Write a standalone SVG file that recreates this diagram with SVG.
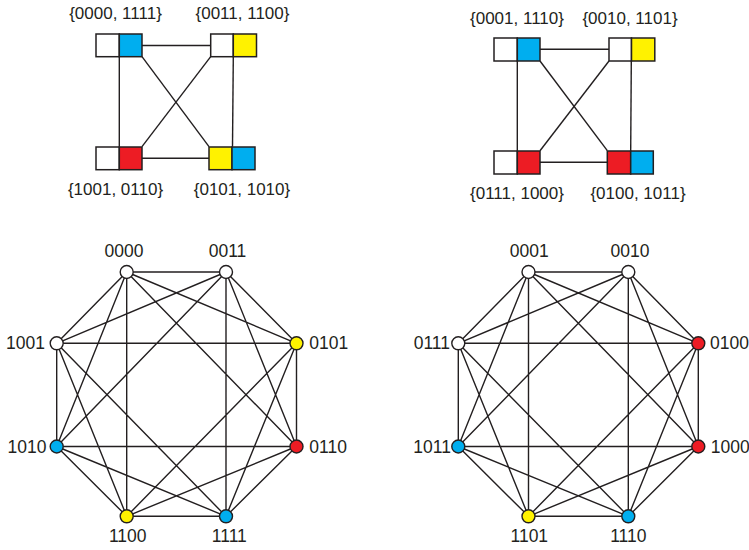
<svg xmlns="http://www.w3.org/2000/svg" width="749" height="550" viewBox="0 0 749 550">
<style>
  .e { stroke: #231f20; stroke-width: 1.4; fill: none; }
  .sq { stroke: #231f20; stroke-width: 1.5; }
  .n { stroke: #231f20; stroke-width: 1.4; }
  .w { fill: #ffffff; }
  .b { fill: #00aeef; }
  .y { fill: #fff200; }
  .r { fill: #ed1c24; }
  text { font-family: "Liberation Sans", Arial, sans-serif; fill: #231f20; }
  .lt { font-size: 17px; text-anchor: middle; }
  .lo { font-size: 17.5px; }
  .m { text-anchor: middle; }
  .s { text-anchor: start; }
  .en { text-anchor: end; }
</style>
<rect width="749" height="550" fill="#ffffff"/>

<!-- connectors -->
<g id="connectors">
  <!-- top-left quotient graph -->
  <line class="e" x1="142" y1="45.5" x2="210.7" y2="45.5"/>
  <line class="e" x1="119.3" y1="56.7" x2="119.3" y2="146.7"/>
  <line class="e" x1="233.3" y1="56.7" x2="232.5" y2="146.7"/>
  <line class="e" x1="142" y1="158.3" x2="209" y2="158.3"/>
  <line class="e" x1="142" y1="56.7" x2="209" y2="146.7"/>
  <line class="e" x1="210.7" y1="56.7" x2="142" y2="146.7"/>
  <!-- top-right quotient graph -->
  <line class="e" x1="540" y1="49.3" x2="609" y2="49.3"/>
  <line class="e" x1="517.3" y1="61" x2="517.3" y2="150.7"/>
  <line class="e" x1="631.3" y1="61" x2="630.7" y2="150.7"/>
  <line class="e" x1="540" y1="162.3" x2="607.3" y2="162.3"/>
  <line class="e" x1="540" y1="61" x2="607.3" y2="150.7"/>
  <line class="e" x1="609" y1="61" x2="540" y2="150.7"/>

  <!-- left octagon: A=0000 B=0011 C=1001 D=0101 E=1010 F=0110 G=1100 H=1111 -->
  <path class="e" d="
    M126.7,272 L226,272 M126.7,272 L56.7,343.3 M126.7,272 L296.5,343.3 M126.7,272 L56.7,446.5
    M126.7,272 L296.5,446.5 M126.7,272 L126.7,516.3
    M226,272 L56.7,343.3 M226,272 L296.5,343.3 M226,272 L56.7,446.5 M226,272 L296.5,446.5 M226,272 L226,516.3
    M56.7,343.3 L296.5,343.3 M56.7,343.3 L56.7,446.5 M56.7,343.3 L126.7,516.3 M56.7,343.3 L226,516.3
    M296.5,343.3 L296.5,446.5 M296.5,343.3 L126.7,516.3 M296.5,343.3 L226,516.3
    M56.7,446.5 L296.5,446.5 M56.7,446.5 L126.7,516.3 M56.7,446.5 L226,516.3
    M296.5,446.5 L126.7,516.3 M296.5,446.5 L226,516.3
    M126.7,516.3 L226,516.3"/>

  <!-- right octagon: A=0001 B=0010 C=0111 D=0100 E=1011 F=1000 G=1101 H=1110 -->
  <path class="e" d="
    M528.5,272 L628.3,272 M528.5,272 L458.3,343.3 M528.5,272 L698.3,343.3 M528.5,272 L458.3,446.5
    M528.5,272 L698.3,446.5 M528.5,272 L528.5,516.3
    M628.3,272 L458.3,343.3 M628.3,272 L698.3,343.3 M628.3,272 L458.3,446.5 M628.3,272 L698.3,446.5 M628.3,272 L628.3,516.3
    M458.3,343.3 L698.3,343.3 M458.3,343.3 L458.3,446.5 M458.3,343.3 L528.5,516.3 M458.3,343.3 L628.3,516.3
    M698.3,343.3 L698.3,446.5 M698.3,343.3 L528.5,516.3 M698.3,343.3 L628.3,516.3
    M458.3,446.5 L698.3,446.5 M458.3,446.5 L528.5,516.3 M458.3,446.5 L628.3,516.3
    M698.3,446.5 L528.5,516.3 M698.3,446.5 L628.3,516.3
    M528.5,516.3 L628.3,516.3"/>
</g>

<!-- top-left quotient nodes -->
<g id="q-0000-1111">
  <rect class="sq w" x="96" y="34" width="23.3" height="22.7"/>
  <rect class="sq b" x="119.3" y="34" width="22.7" height="22.7"/>
  <text class="lt" x="115.5" y="18.5">{0000, 1111}</text>
</g>
<g id="q-0011-1100">
  <rect class="sq w" x="210.7" y="34" width="22.6" height="22.7"/>
  <rect class="sq y" x="233.3" y="34" width="23.2" height="22.7"/>
  <text class="lt" x="242.5" y="18.5">{0011, 1100}</text>
</g>
<g id="q-1001-0110">
  <rect class="sq w" x="96" y="147" width="23.3" height="22.7"/>
  <rect class="sq r" x="119.3" y="147" width="22.7" height="22.7"/>
  <text class="lt" x="115.5" y="195">{1001, 0110}</text>
</g>
<g id="q-0101-1010">
  <rect class="sq y" x="209" y="147" width="23" height="22.7"/>
  <rect class="sq b" x="232" y="147" width="23" height="22.7"/>
  <text class="lt" x="242" y="195">{0101, 1010}</text>
</g>

<!-- top-right quotient nodes -->
<g id="q-0001-1110">
  <rect class="sq w" x="494" y="38" width="23.3" height="23"/>
  <rect class="sq b" x="517.3" y="38" width="22.7" height="23"/>
  <text class="lt" x="517" y="24">{0001, 1110}</text>
</g>
<g id="q-0010-1101">
  <rect class="sq w" x="609" y="38" width="22.5" height="23"/>
  <rect class="sq y" x="631.5" y="38" width="23.3" height="23"/>
  <text class="lt" x="630" y="24">{0010, 1101}</text>
</g>
<g id="q-0111-1000">
  <rect class="sq w" x="494" y="151" width="23.3" height="23"/>
  <rect class="sq r" x="517.3" y="151" width="22.7" height="23"/>
  <text class="lt" x="517" y="199">{0111, 1000}</text>
</g>
<g id="q-0100-1011">
  <rect class="sq r" x="607.3" y="151" width="23.4" height="23"/>
  <rect class="sq b" x="630.7" y="151" width="22.6" height="23"/>
  <text class="lt" x="638" y="199">{0100, 1011}</text>
</g>

<!-- left octagon nodes -->
<g id="n-0000"><circle class="n w" cx="126.7" cy="272" r="6.5"/><text class="lo m" x="124" y="257">0000</text></g>
<g id="n-0011"><circle class="n w" cx="226" cy="272" r="6.5"/><text class="lo m" x="227.5" y="257">0011</text></g>
<g id="n-1001"><circle class="n w" cx="56.7" cy="343.3" r="6.5"/><text class="lo en" x="45" y="348.5">1001</text></g>
<g id="n-0101"><circle class="n y" cx="296.5" cy="343.3" r="6.5"/><text class="lo s" x="309.3" y="348.5">0101</text></g>
<g id="n-1010"><circle class="n b" cx="56.7" cy="446.5" r="6.5"/><text class="lo en" x="46.5" y="452.7">1010</text></g>
<g id="n-0110"><circle class="n r" cx="296.5" cy="446.5" r="6.5"/><text class="lo s" x="309.3" y="452.7">0110</text></g>
<g id="n-1100"><circle class="n y" cx="126.7" cy="516.3" r="6.5"/><text class="lo m" x="127.7" y="541.7">1100</text></g>
<g id="n-1111"><circle class="n b" cx="226" cy="516.3" r="6.5"/><text class="lo m" x="229.3" y="541.7">1111</text></g>

<!-- right octagon nodes -->
<g id="n-0001"><circle class="n w" cx="528.5" cy="272" r="6.5"/><text class="lo m" x="529.3" y="257">0001</text></g>
<g id="n-0010"><circle class="n w" cx="628.3" cy="272" r="6.5"/><text class="lo m" x="630" y="257">0010</text></g>
<g id="n-0111"><circle class="n w" cx="458.3" cy="343.3" r="6.5"/><text class="lo en" x="450" y="348.5">0111</text></g>
<g id="n-0100"><circle class="n r" cx="698.3" cy="343.3" r="6.5"/><text class="lo s" x="710" y="348.5">0100</text></g>
<g id="n-1011"><circle class="n b" cx="458.3" cy="446.5" r="6.5"/><text class="lo en" x="451" y="452.7">1011</text></g>
<g id="n-1000"><circle class="n r" cx="698.3" cy="446.5" r="6.5"/><text class="lo s" x="710.7" y="452.7">1000</text></g>
<g id="n-1101"><circle class="n y" cx="528.5" cy="516.3" r="6.5"/><text class="lo m" x="529.3" y="541.7">1101</text></g>
<g id="n-1110"><circle class="n b" cx="628.3" cy="516.3" r="6.5"/><text class="lo m" x="628.3" y="541.7">1110</text></g>
</svg>
